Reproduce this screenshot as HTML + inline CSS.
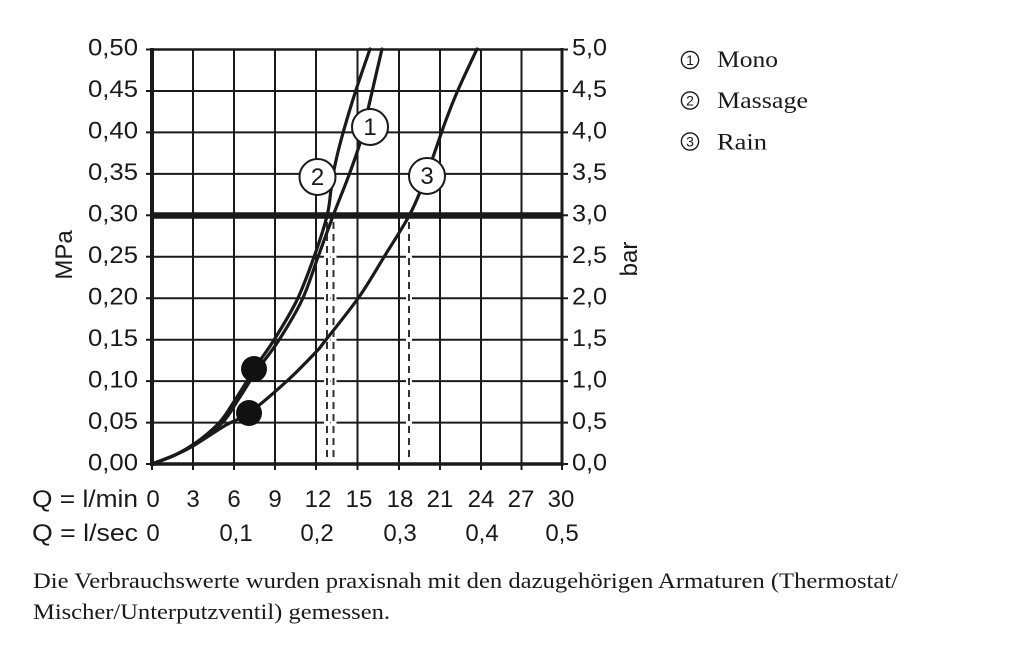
<!DOCTYPE html>
<html>
<head>
<meta charset="utf-8">
<style>
  html, body { margin: 0; padding: 0; background: #fff; }
  svg { display: block; }
  .ax { font-family: "Liberation Sans", "DejaVu Sans", sans-serif; font-size: 24px; fill: #1a1a1a; }
  .sf { font-family: "Liberation Serif", "DejaVu Serif", serif; fill: #1a1a1a; }
</style>
</head>
<body>
<svg width="1024" height="652" viewBox="0 0 1024 652" xmlns="http://www.w3.org/2000/svg">
  <rect x="0" y="0" width="1024" height="652" fill="#fff"/>

  <!-- grid -->
  <g stroke="#1a1a1a" stroke-width="2" fill="none">
    <line x1="193" y1="49.5" x2="193" y2="464"/>
    <line x1="234" y1="49.5" x2="234" y2="464"/>
    <line x1="275" y1="49.5" x2="275" y2="464"/>
    <line x1="316" y1="49.5" x2="316" y2="464"/>
    <line x1="357.5" y1="49.5" x2="357.5" y2="464"/>
    <line x1="399" y1="49.5" x2="399" y2="464"/>
    <line x1="440" y1="49.5" x2="440" y2="464"/>
    <line x1="481" y1="49.5" x2="481" y2="464"/>
    <line x1="521.5" y1="49.5" x2="521.5" y2="464"/>

    <line x1="146" y1="422.6" x2="568" y2="422.6"/>
    <line x1="146" y1="381.1" x2="568" y2="381.1"/>
    <line x1="146" y1="339.7" x2="568" y2="339.7"/>
    <line x1="146" y1="298.2" x2="568" y2="298.2"/>
    <line x1="146" y1="256.8" x2="568" y2="256.8"/>
    <line x1="146" y1="173.9" x2="568" y2="173.9"/>
    <line x1="146" y1="132.4" x2="568" y2="132.4"/>
    <line x1="146" y1="91" x2="568" y2="91"/>
    <line x1="146" y1="49.5" x2="568" y2="49.5"/>
    <line x1="146" y1="464" x2="152" y2="464"/>
    <line x1="562" y1="464" x2="568" y2="464"/>
    <line x1="146" y1="215.3" x2="152" y2="215.3"/>
    <line x1="562" y1="215.3" x2="568" y2="215.3"/>

    <!-- bottom ticks -->
    <line x1="152" y1="464" x2="152" y2="470"/>
    <line x1="193" y1="464" x2="193" y2="470"/>
    <line x1="234" y1="464" x2="234" y2="470"/>
    <line x1="275" y1="464" x2="275" y2="470"/>
    <line x1="316" y1="464" x2="316" y2="470"/>
    <line x1="357.5" y1="464" x2="357.5" y2="470"/>
    <line x1="399" y1="464" x2="399" y2="470"/>
    <line x1="440" y1="464" x2="440" y2="470"/>
    <line x1="481" y1="464" x2="481" y2="470"/>
    <line x1="521.5" y1="464" x2="521.5" y2="470"/>
    <line x1="562" y1="464" x2="562" y2="470"/>
  </g>

  <!-- dashed lines with white halo -->
  <g fill="none">
    <line x1="327" y1="219" x2="327" y2="462" stroke="#fff" stroke-width="6"/>
    <line x1="333.5" y1="219" x2="333.5" y2="462" stroke="#fff" stroke-width="6"/>
    <line x1="409" y1="219" x2="409" y2="462" stroke="#fff" stroke-width="6"/>
    <g stroke="#333" stroke-width="2" stroke-dasharray="7,5">
      <line x1="327" y1="222" x2="327" y2="462"/>
      <line x1="333.5" y1="222" x2="333.5" y2="462"/>
      <line x1="409" y1="222" x2="409" y2="462"/>
    </g>
  </g>

  <!-- frame -->
  <g stroke="#1a1a1a" fill="none">
    <line x1="152" y1="48" x2="152" y2="466" stroke-width="4"/>
    <line x1="562" y1="48" x2="562" y2="466" stroke-width="3"/>
    <line x1="150" y1="49.5" x2="563.5" y2="49.5" stroke-width="2.5"/>
    <line x1="150" y1="464" x2="563.5" y2="464" stroke-width="3.5"/>
    <line x1="150" y1="215.5" x2="563.5" y2="215.5" stroke-width="6.5"/>
  </g>

  <!-- curves -->
  <g stroke="#1a1a1a" stroke-width="3.2" fill="none" stroke-linejoin="round" stroke-linecap="round">
    <path id="c1" d="M152,464 L175,455 L194,444 L222,423 L238,400 L250,381 L258,369 L279,340 L302,300 L318,257 L333,216 L349,175 L360,143 L366,118 L372,92 L382,49"/>
    <path id="c2" d="M152,464 L175,455 L193,445 L219,423 L235,400 L247,381 L254,369 L274,340 L297,300 L314,257 L327,216 L331,190 L335,165 L343,133 L356,90 L370,49"/>
    <path id="c3" d="M152,464 L175,455 L193,446 L226,425 L249,413 L287,381 L316,352 L325,341 L359,297 L384,257 L409,216 L422,187 L433,157 L446,120 L458,90 L477,49"/>
  </g>

  <!-- dots -->
  <circle cx="254" cy="369" r="13" fill="#111"/>
  <circle cx="249" cy="413" r="13" fill="#111"/>

  <!-- curve labels -->
  <g stroke="#1a1a1a" stroke-width="2" fill="#fff">
    <circle cx="370" cy="127" r="18"/>
    <circle cx="317.5" cy="177" r="18"/>
    <circle cx="427" cy="176" r="18"/>
  </g>
  <g class="ax" font-size="23" text-anchor="middle">
    <text x="370" y="135">1</text>
    <text x="317.5" y="185">2</text>
    <text x="427" y="184">3</text>
  </g>

  <!-- left labels -->
  <g class="ax" text-anchor="end">
    <text x="138" y="55.5" textLength="50" lengthAdjust="spacingAndGlyphs">0,50</text>
    <text x="138" y="97" textLength="50" lengthAdjust="spacingAndGlyphs">0,45</text>
    <text x="138" y="138.5" textLength="50" lengthAdjust="spacingAndGlyphs">0,40</text>
    <text x="138" y="180" textLength="50" lengthAdjust="spacingAndGlyphs">0,35</text>
    <text x="138" y="221.5" textLength="50" lengthAdjust="spacingAndGlyphs">0,30</text>
    <text x="138" y="263" textLength="50" lengthAdjust="spacingAndGlyphs">0,25</text>
    <text x="138" y="304.5" textLength="50" lengthAdjust="spacingAndGlyphs">0,20</text>
    <text x="138" y="346" textLength="50" lengthAdjust="spacingAndGlyphs">0,15</text>
    <text x="138" y="387.5" textLength="50" lengthAdjust="spacingAndGlyphs">0,10</text>
    <text x="138" y="429" textLength="50" lengthAdjust="spacingAndGlyphs">0,05</text>
    <text x="138" y="470.5" textLength="50" lengthAdjust="spacingAndGlyphs">0,00</text>
  </g>

  <!-- right labels -->
  <g class="ax">
    <text x="572" y="55.5" textLength="35" lengthAdjust="spacingAndGlyphs">5,0</text>
    <text x="572" y="97" textLength="35" lengthAdjust="spacingAndGlyphs">4,5</text>
    <text x="572" y="138.5" textLength="35" lengthAdjust="spacingAndGlyphs">4,0</text>
    <text x="572" y="180" textLength="35" lengthAdjust="spacingAndGlyphs">3,5</text>
    <text x="572" y="221.5" textLength="35" lengthAdjust="spacingAndGlyphs">3,0</text>
    <text x="572" y="263" textLength="35" lengthAdjust="spacingAndGlyphs">2,5</text>
    <text x="572" y="304.5" textLength="35" lengthAdjust="spacingAndGlyphs">2,0</text>
    <text x="572" y="346" textLength="35" lengthAdjust="spacingAndGlyphs">1,5</text>
    <text x="572" y="387.5" textLength="35" lengthAdjust="spacingAndGlyphs">1,0</text>
    <text x="572" y="429" textLength="35" lengthAdjust="spacingAndGlyphs">0,5</text>
    <text x="572" y="470.5" textLength="35" lengthAdjust="spacingAndGlyphs">0,0</text>
  </g>

  <!-- axis titles -->
  <text class="ax" transform="translate(72,255) rotate(-90)" text-anchor="middle">MPa</text>
  <text class="ax" transform="translate(637,259) rotate(-90)" text-anchor="middle">bar</text>

  <!-- bottom rows -->
  <g class="ax" font-size="25">
    <text x="32" y="507" textLength="106" lengthAdjust="spacingAndGlyphs">Q = l/min</text>
    <text x="32" y="541" textLength="106" lengthAdjust="spacingAndGlyphs">Q = l/sec</text>
  </g>
  <g class="ax" font-size="25" text-anchor="middle">
    <text x="153" y="507">0</text>
    <text x="193" y="507">3</text>
    <text x="234" y="507">6</text>
    <text x="275" y="507">9</text>
    <text x="318" y="507">12</text>
    <text x="359" y="507">15</text>
    <text x="400" y="507">18</text>
    <text x="440" y="507">21</text>
    <text x="481" y="507">24</text>
    <text x="521" y="507">27</text>
    <text x="561" y="507">30</text>

    <text x="153" y="541">0</text>
    <text x="236" y="541">0,1</text>
    <text x="317" y="541">0,2</text>
    <text x="400" y="541">0,3</text>
    <text x="482" y="541">0,4</text>
    <text x="562" y="541">0,5</text>
  </g>

  <!-- legend -->
  <g stroke="#1a1a1a" stroke-width="1.4" fill="#fff">
    <circle cx="690" cy="60" r="8.6"/>
    <circle cx="690" cy="100.5" r="8.6"/>
    <circle cx="690" cy="141.5" r="8.6"/>
  </g>
  <g font-family="Liberation Sans, DejaVu Sans, sans-serif" font-size="14" fill="#1a1a1a" text-anchor="middle">
    <text x="690" y="65">1</text>
    <text x="690" y="105.5">2</text>
    <text x="690" y="146.5">3</text>
  </g>
  <g class="sf" font-size="23">
    <text x="717" y="67" textLength="61" lengthAdjust="spacingAndGlyphs">Mono</text>
    <text x="717" y="108" textLength="91" lengthAdjust="spacingAndGlyphs">Massage</text>
    <text x="717" y="149.5" textLength="50" lengthAdjust="spacingAndGlyphs">Rain</text>
  </g>

  <!-- footnote -->
  <g class="sf" font-size="22">
    <text x="33" y="588" textLength="865" lengthAdjust="spacingAndGlyphs">Die Verbrauchswerte wurden praxisnah mit den dazugehörigen Armaturen (Thermostat/</text>
    <text x="33" y="619" textLength="357" lengthAdjust="spacingAndGlyphs">Mischer/Unterputzventil) gemessen.</text>
  </g>
</svg>
<script>
(function(){
  function smooth(id){
    var el=document.getElementById(id);
    var d=el.getAttribute('d');
    var nums=d.match(/-?\d+(\.\d+)?/g).map(Number);
    var p=[];
    for(var i=0;i<nums.length;i+=2)p.push([nums[i],nums[i+1]]);
    var s='M'+p[0][0]+','+p[0][1];
    for(var i=0;i<p.length-1;i++){
      var p0=p[i>0?i-1:i],p1=p[i],p2=p[i+1],p3=p[i+2<p.length?i+2:i+1];
      var c1x=p1[0]+(p2[0]-p0[0])/6,c1y=p1[1]+(p2[1]-p0[1])/6;
      var c2x=p2[0]-(p3[0]-p1[0])/6,c2y=p2[1]-(p3[1]-p1[1])/6;
      s+=' C'+c1x.toFixed(2)+','+c1y.toFixed(2)+' '+c2x.toFixed(2)+','+c2y.toFixed(2)+' '+p2[0]+','+p2[1];
    }
    el.setAttribute('d',s);
  }
  try{smooth('c1');smooth('c2');smooth('c3');}catch(e){}
})();
</script>
</body>
</html>
